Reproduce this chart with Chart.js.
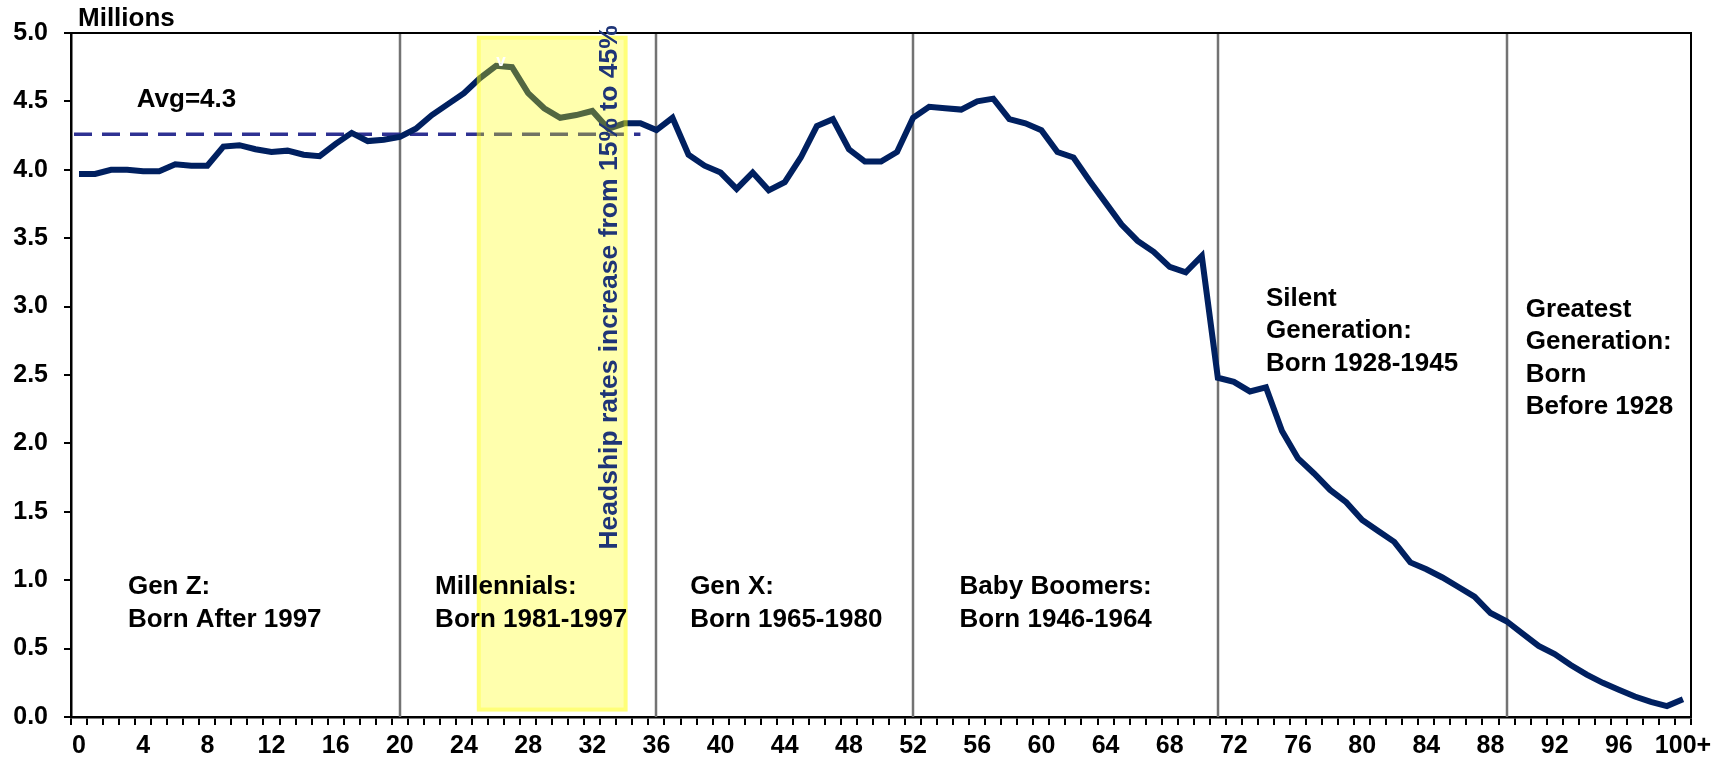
<!DOCTYPE html>
<html>
<head>
<meta charset="utf-8">
<script src="https://cdn.jsdelivr.net/npm/chart.js@4.4.1/dist/chart.umd.min.js"></script>
<style>
  html, body { margin: 0; padding: 0; background: #fff; }
  #wrap { width: 1726px; height: 763px; }
</style>
</head>
<body>
<div id="wrap"><canvas id="chart" width="1726" height="763"></canvas></div>
<script>
// ages 0..99 plus the open-ended 100+ bucket
const ages = Array.from({ length: 101 }, (_, i) => (i === 100 ? '100+' : String(i)));

// population by single year of age, millions
const population = [
    3.97, 3.97, 4.00, 4.00, 3.99, 3.99, 4.04, 4.03, 4.03, 4.17,
    4.18, 4.15, 4.13, 4.14, 4.11, 4.10, 4.19, 4.27, 4.21, 4.22,
    4.24, 4.30, 4.40, 4.48, 4.56, 4.67, 4.76, 4.75, 4.56, 4.45,
    4.38, 4.40, 4.43, 4.30, 4.34, 4.34, 4.29, 4.38, 4.11, 4.03,
    3.98, 3.86, 3.98, 3.85, 3.91, 4.09, 4.32, 4.37, 4.15, 4.06,
    4.06, 4.13, 4.38, 4.46, 4.45, 4.44, 4.50, 4.52, 4.37, 4.34,
    4.29, 4.13, 4.09, 3.92, 3.76, 3.60, 3.48, 3.40, 3.29, 3.25,
    3.37, 2.48, 2.45, 2.38, 2.41, 2.09, 1.89, 1.78, 1.66, 1.57,
    1.44, 1.36, 1.28, 1.13, 1.08, 1.02, 0.95, 0.88, 0.76, 0.70,
    0.61, 0.52, 0.46, 0.38, 0.31, 0.25, 0.20, 0.15, 0.11, 0.08,
    0.13
];

// x tick labels that are printed (every 4th age)
const shownAgeLabels = ['0', '4', '8', '12', '16', '20', '24', '28', '32', '36', '40', '44', '48',
    '52', '56', '60', '64', '68', '72', '76', '80', '84', '88', '92', '96', '100+'];

// generation boundaries (age index where a vertical rule is drawn)
const generationBreaks = [20, 36, 52, 71, 89];

// average line
const avgValue = 4.26;
const avgEndAge = 35;

// highlighted age band (headship rates)
const bandStart = 24.8;
const bandEnd = 34.2;
const bandLow = 0.04;
const bandHigh = 4.98;

// text notes: [age, value of first line, lines]
const notes = [
    [3.6, 4.51, ['Avg=4.3']],
    [3.05, 0.95, ['Gen Z:', 'Born After 1997']],
    [22.2, 0.95, ['Millennials:', 'Born 1981-1997']],
    [38.1, 0.95, ['Gen X:', 'Born 1965-1980']],
    [54.9, 0.95, ['Baby Boomers:', 'Born 1946-1964']],
    [74.0, 3.06, ['Silent', 'Generation:', 'Born 1928-1945']],
    [90.2, 2.98, ['Greatest', 'Generation:', 'Born', 'Before 1928']]
];

const FONT = '"Liberation Sans", Arial, sans-serif';
const NAVY = '#002060';

const overlayPlugin = {
    id: 'overlay',
    beforeDatasetsDraw(chart) {
        const { ctx, chartArea, scales: { x, y } } = chart;
        ctx.save();
        // generation rules
        ctx.strokeStyle = '#737373';
        ctx.lineWidth = 2.5;
        generationBreaks.forEach(a => {
            const px = Math.round(x.getPixelForValue(a));
            ctx.beginPath();
            ctx.moveTo(px, chartArea.top);
            ctx.lineTo(px, chartArea.bottom);
            ctx.stroke();
        });
        // average dashed line
        const ay = y.getPixelForValue(avgValue);
        ctx.strokeStyle = '#2e3192';
        ctx.lineWidth = 3.5;
        ctx.setLineDash([18, 10]);
        ctx.beginPath();
        ctx.moveTo(chartArea.left + 3, ay);
        ctx.lineTo(x.getPixelForValue(avgEndAge), ay);
        ctx.stroke();
        ctx.restore();
    },
    afterDatasetsDraw(chart) {
        const { ctx, chartArea, scales: { x, y } } = chart;
        ctx.save();
        // yellow band drawn over the line
        const bx0 = x.getPixelForValue(bandStart);
        const bx1 = x.getPixelForValue(bandEnd);
        const by0 = y.getPixelForValue(bandHigh);
        const by1 = y.getPixelForValue(bandLow);
        ctx.fillStyle = 'rgba(255, 255, 0, 0.32)';
        ctx.fillRect(bx0, by0, bx1 - bx0, by1 - by0);
        ctx.strokeStyle = 'rgba(255, 255, 0, 0.3)';
        ctx.lineWidth = 4;
        ctx.strokeRect(bx0 + 2, by0 + 2, bx1 - bx0 - 4, by1 - by0 - 4);

        // white marker at the peak
        ctx.fillStyle = '#fff';
        ctx.font = 'bold 17px ' + FONT;
        ctx.textAlign = 'center';
        ctx.textBaseline = 'middle';
        ctx.fillText('v', x.getPixelForValue(26.3), y.getPixelForValue(4.79));

        // frame top and right
        ctx.strokeStyle = '#000';
        ctx.lineWidth = 2;
        ctx.beginPath();
        ctx.moveTo(chartArea.left, chartArea.top);
        ctx.lineTo(chartArea.right, chartArea.top);
        ctx.lineTo(chartArea.right, chartArea.bottom);
        ctx.stroke();

        // notes
        ctx.fillStyle = '#000';
        ctx.font = 'bold 26px ' + FONT;
        ctx.textAlign = 'left';
        notes.forEach(([age, val, lines]) => {
            const px = x.getPixelForValue(age);
            const py = y.getPixelForValue(val);
            lines.forEach((t, i) => ctx.fillText(t, px, py + i * 32.5));
        });

        // rotated headship note
        ctx.translate(x.getPixelForValue(33.1), y.getPixelForValue(3.14));
        ctx.rotate(-Math.PI / 2);
        ctx.fillStyle = '#1f3577';
        ctx.textAlign = 'center';
        ctx.font = 'bold 26.5px ' + FONT;
        ctx.fillText('Headship rates increase from 15% to 45%', 0, 0);
        ctx.restore();

        // axis unit
        ctx.save();
        ctx.fillStyle = '#000';
        ctx.font = 'bold 26px ' + FONT;
        ctx.textBaseline = 'middle';
        ctx.fillText('Millions', chartArea.left + 7, 19);
        ctx.restore();
    }
};

new Chart(document.getElementById('chart'), {
    type: 'line',
    data: {
        labels: ages,
        datasets: [{
            label: 'Population',
            data: population,
            borderColor: NAVY,
            borderWidth: 6,
            pointRadius: 0,
            tension: 0,
            fill: false
        }]
    },
    options: {
        responsive: false,
        animation: false,
        layout: { padding: { left: 0, right: 35, top: 33, bottom: 0 } },
        plugins: {
            legend: { display: false },
            tooltip: { enabled: false }
        },
        scales: {
            x: {
                offset: true,
                afterFit: s => { s.height = 46; },
                grid: {
                    offset: true,
                    drawOnChartArea: false,
                    drawTicks: true,
                    tickLength: 8,
                    color: '#000',
                    lineWidth: 2
                },
                border: { display: true, color: '#000', width: 2.5 },
                ticks: {
                    autoSkip: false,
                    maxRotation: 0,
                    color: '#000',
                    padding: 6,
                    font: { family: FONT, size: 25, weight: 'bold' },
                    callback: function (v, i) {
                        const lab = ages[i];
                        return shownAgeLabels.includes(lab) ? lab : '';
                    }
                }
            },
            y: {
                min: 0,
                max: 5,
                afterFit: s => { s.width = 71; },
                grid: {
                    drawOnChartArea: false,
                    drawTicks: true,
                    tickLength: 7,
                    color: '#000',
                    lineWidth: 2
                },
                border: { display: true, color: '#000', width: 2.5 },
                ticks: {
                    stepSize: 0.5,
                    color: '#000',
                    padding: 16,
                    font: { family: FONT, size: 25, weight: 'bold' },
                    callback: v => v.toFixed(1)
                }
            }
        }
    },
    plugins: [overlayPlugin]
});
</script>
</body>
</html>
